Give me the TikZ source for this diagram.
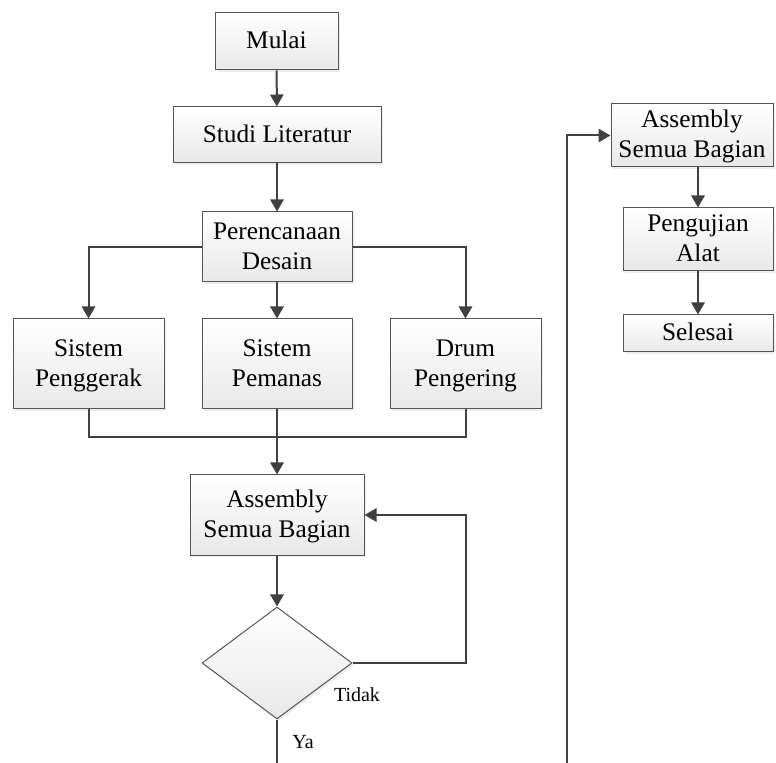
\documentclass[tikz,border=0pt]{standalone}
\usepackage{fontspec}
\setmainfont{Liberation Serif}
\usetikzlibrary{arrows.meta,shapes.geometric,shadows}
\definecolor{edgec}{HTML}{555555}
\definecolor{linec}{HTML}{404040}
\newcommand{\mytopstrut}{\rule{0pt}{18pt}}
\tikzset{
  box/.style={draw=edgec, line width=0.75pt, top color=white, bottom color=black!9,
    drop shadow={shadow xshift=1.6pt, shadow yshift=-1.6pt, fill=black!14},
    align=center, inner sep=0pt, font=\fontsize{19}{22.5}\selectfont},
  decision/.style={box, diamond},
  flow/.style={draw=linec, line width=1.5pt, -{Triangle[length=9pt,width=10pt]}},
  plain/.style={draw=linec, line width=1.5pt},
  lbl/.style={font=\fontsize{15}{18}\selectfont, inner sep=0pt}
}
\begin{document}
\begin{tikzpicture}[x=0.75pt,y=-0.75pt]
\useasboundingbox (0,0) rectangle (776,763);
% left column
\node[box, minimum width=92.25pt, minimum height=42.75pt] (mulai) at (276.5,41.5) {\mytopstrut\strut Mulai};
\node[box, minimum width=156pt, minimum height=42pt] (studi) at (277,135) {\mytopstrut\strut Studi Literatur};
\node[box, minimum width=112.5pt, minimum height=52.5pt] (per) at (277,247) {\mytopstrut Perencanaan\\\strut Desain};
\node[box, minimum width=113.25pt, minimum height=67.5pt] (sp) at (88.5,364) {\mytopstrut Sistem\\\strut Penggerak};
\node[box, minimum width=112.5pt, minimum height=67.5pt] (pm) at (277,364) {\mytopstrut Sistem\\\strut Pemanas};
\node[box, minimum width=113.25pt, minimum height=67.5pt] (dp) at (465.5,364) {\mytopstrut Drum\\\strut Pengering};
\node[box, minimum width=130.5pt, minimum height=60pt] (asm) at (277,515) {\mytopstrut Assembly\\\strut Semua Bagian};
\node[decision, minimum width=112.5pt, minimum height=84pt] (dia) at (277,663) {};
\node[lbl] (tidak) at (357,695) {Tidak};
\node[lbl] (ya) at (303,742) {Ya};
% right column
\node[box, minimum width=121.5pt, minimum height=41.25pt] (asm2) at (692,135.5) {\mytopstrut Assembly\\\strut Semua Bagian};
\node[box, minimum width=112.5pt, minimum height=41.25pt] (uji) at (698,239.5) {\mytopstrut Pengujian\\\strut Alat};
\node[box, minimum width=112.5pt, minimum height=27.75pt] (sel) at (698,333.5) {\mytopstrut\strut Selesai};
% coordinates
\coordinate (join) at (277,437);
\coordinate (loopc) at (466,515);
\coordinate (yaend) at (277,766);
\coordinate (rend) at (567,766);
% connectors
\draw[flow] (mulai) -- (studi);
\draw[flow] (studi) -- (per);
\draw[flow] (per.west) -| (sp.north);
\draw[flow] (per.east) -| (dp.north);
\draw[flow] (per) -- (pm);
\draw[plain] (sp.south) |- (join);
\draw[plain] (dp.south) |- (join);
\draw[flow] (pm.south) -- (asm.north);
\draw[flow] (asm) -- (dia);
\draw[flow] (dia.east) -| (loopc) -- (asm.east);
\draw[plain] (dia.south) -- (yaend);
\draw[flow] (rend) |- (asm2.west);
\draw[flow] (uji.north |- asm2.south) -- (uji.north);
\draw[flow] (uji) -- (sel);
\end{tikzpicture}
\end{document}
